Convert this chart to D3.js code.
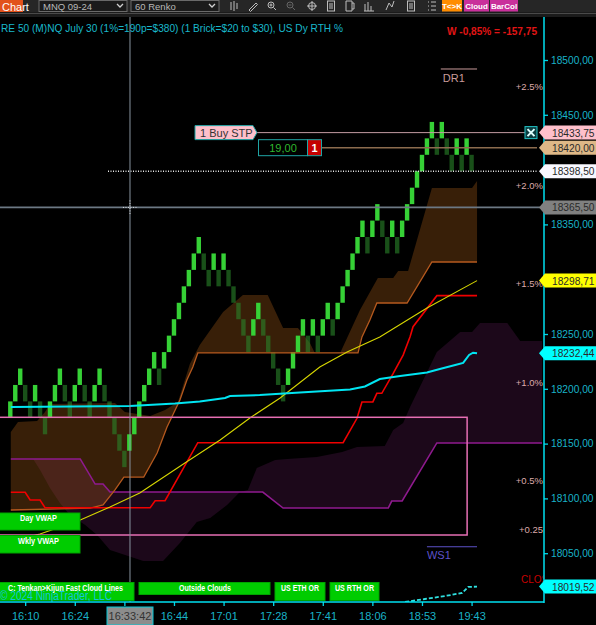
<!DOCTYPE html>
<html>
<head>
<meta charset="utf-8">
<script src="https://d3js.org/d3.v7.min.js"></script>
<style>
  body { margin: 0; background: #000; overflow: hidden; }
  svg { display: block; font-family: "Liberation Sans", Arial, sans-serif; }
</style>
</head>
<body>
<svg id="chart" width="596" height="625"></svg>
<script>
// renko closes (60 tick bricks = 15 pts)
var brickSize = 15;
var brickClose = [18188.5,18203.5,18218.5,18188.5,18173.5,18203.5,18173.5,18158.5,18188.5,18203.5,
  18218.5,18188.5,18173.5,18203.5,18218.5,18188.5,18173.5,18203.5,18218.5,18188.5,
  18173.5,18158.5,18143.5,18128.5,18158.5,18173.5,18188.5,18203.5,18218.5,18233.5,
  18203.5,18233.5,18248.5,18263.5,18278.5,18293.5,18308.5,18323.5,18338.5,18308.5,
  18293.5,18323.5,18293.5,18323.5,18293.5,18278.5,18263.5,18248.5,18233.5,18263.5,
  18278.5,18248.5,18233.5,18218.5,18203.5,18188.5,18218.5,18233.5,18248.5,18263.5,
  18233.5,18263.5,18233.5,18263.5,18278.5,18248.5,18278.5,18293.5,18308.5,18323.5,
  18338.5,18353.5,18323.5,18353.5,18368.5,18338.5,18323.5,18353.5,18323.5,18353.5,
  18368.5,18383.5,18398.5,18413.5,18428.5,18443.5,18413.5,18443.5,18413.5,18398.5,
  18428.5,18398.5,18428.5,18398.5];

var timeTicks = [3, 13, 23, 33, 43, 53, 63, 73, 83, 93];
var timeLabels = ["16:10", "16:24", "", "16:44", "17:01", "17:28", "17:41", "18:06", "18:53", "19:43"];
var priceTicks = [18050, 18100, 18150, 18200, 18250, 18300, 18350, 18400, 18450, 18500];

var pctLabels = ["+2.5%", "+2.0%", "+1.5%", "+1.0%", "+0.5%", "+0.25"];
var pctPrices = [18475.6, 18385.3, 18296.3, 18205.9, 18116.2, 18071.2];

// [bar index, price]
var dayVwap = [[0.1,18183.4],[24.1,18184.3],[33.2,18186.6],[38.2,18188.4],[43.3,18191.6],[44.3,18193.4],
  [50.3,18194.3],[58.4,18196.6],[68.5,18199.4],[71.5,18202.1],[74.5,18208.9],[78.6,18211.7],
  [84.0,18214.9],[86.6,18218.1],[89.7,18221.7],[91.3,18223.6],[92.5,18230.9],[93.3,18232.9],[94.1,18232.4]];
var wklyVwap = [[3.6,18064.8],[6.0,18067.5],[14.1,18080.3],[20.1,18092.2],[26.1,18104.9],[35.2,18132.3],
  [42.3,18153.3],[48.3,18173.4],[54.4,18191.6],[62.4,18219.9],[67.9,18233.6],[74.5,18247.3],
  [84.0,18273.7],[94.1,18298.7]];
var redLine = [[0.1,18105.6],[3.0,18105.6],[4.0,18098.5],[6.0,18098.5],[7.0,18091.5],[28.2,18091.5],
  [29.2,18097.9],[31.2,18097.9],[37.8,18150.8],[67.1,18150.8],[69.9,18173.1],[70.9,18188],
  [73.1,18188],[73.9,18195.9],[74.9,18195.9],[77.2,18214.1],[79.2,18230.8],[80.6,18247.5],
  [81.2,18256.7],[86.0,18285],[94.1,18285]];
var fastSpanA = [[0.1,18160.6],[1.55,18169.7],[5.4,18170.6],[7.0,18178.8],[8.0,18186.1],[21.1,18187],
  [23.1,18178.8],[28.2,18175.2],[31.2,18180.7],[33.8,18188],[36.2,18222.6],[38.2,18240],
  [42.9,18270.1],[46.9,18285.6],[51.9,18285.6],[55.0,18255.5],[58.0,18255.5],[60.4,18241.8],
  [61.4,18232.7],[66.5,18232.7],[70.5,18271.9],[74.1,18301.1],[77.2,18301.1],[78.2,18307.5],
  [80.2,18307.5],[85.0,18383.2],[93.1,18383.2],[94.1,18389.6]];
var fastSpanB = [[0.1,18089.4],[16.1,18091.2],[18.7,18094],[21.1,18107.7],[22.9,18119.5],[26.9,18119.5],
  [29.6,18141.4],[31.6,18165.1],[34.2,18189.8],[35.6,18208],[36.8,18219.9],[37.8,18232.7],
  [70.1,18232.7],[70.9,18247.3],[72.5,18262.8],[73.9,18278.3],[80.0,18278.3],[85.0,18315.7],[94.1,18315.7]];
var slowSpanA = [[0.1,18136],[14.1,18136],[17.1,18113.1],[18.7,18113.1],[20.1,18105.8],[50.9,18105.8],
  [55.0,18091.2],[76.2,18091.2],[76.9,18097.6],[79.0,18097.6],[86.0,18150.6],[107.2,18150.6]];
var slowSpanB = [[0.1,18136],[4.6,18136],[6.0,18125.9],[8.0,18109.5],[10.0,18095.8],[12.0,18084.9],
  [15.1,18075.7],[17.5,18066.6],[20.1,18052.9],[26.8,18042.9],[30.8,18042.9],[34.2,18059.3],
  [37.6,18078.5],[40.3,18082.1],[43.7,18094],[46.3,18105.8],[47.9,18107.7],[49.7,18127.7],
  [53.4,18135],[55.8,18136],[61.8,18137.8],[66.9,18142.3],[69.9,18146.9],[75.5,18147.8],
  [77.2,18162.4],[79.2,18168.8],[80.6,18183.4],[86.0,18233.6],[90.7,18251.8],[93.1,18251.8],
  [94.7,18260],[100.2,18260],[102.8,18243.6],[107.2,18243.6]];
var closePlot = [[79.6,18005.5],[83.6,18008.2],[87.6,18010.9],[91.1,18013.7],[92.3,18019.2],[94.1,18019.5]];

var boxRange = {i0: -5, i1: 92.1, top: 18174.0, bottom: 18066.6};
var markerPrices = [18433.75, 18420.00, 18398.50, 18365.50, 18298.71, 18232.44, 18019.52];
var orderPrice = 18433.75, targetPrice = 18420.00, lastPrice = 18398.50;
var crossIdx = 24.13, crossPrice = 18365.5, crossTime = "16:33:42";
var dr1 = {i0: 86.8, i1: 94.1, price: 18491.8};
var ws1 = {i0: 84.0, i1: 94.1, price: 18055.9};

var W = 596, H = 625, plotL = 0, plotR = 544, plotT = 17, plotB = 602;

var x = d3.scaleLinear().domain([0, 100]).range([10.3, 506.3]);
var y = d3.scaleLinear().domain([18050, 18500]).range([553.2, 60]);
var fmt = function (v) { return d3.format(".2f")(v).replace(".", ","); };
var line = d3.line().x(function (d) { return x(d[0]); }).y(function (d) { return y(d[1]); });

var svg = d3.select("#chart");
svg.append("rect").attr("width", W).attr("height", H).attr("fill", "#000");

//
// TOOLBAR
//
var tb = svg.append("g");
tb.append("rect").attr("width", W).attr("height", 12).attr("fill", "#262626");
tb.append("rect").attr("y", 12).attr("width", W).attr("height", 5).attr("fill", "#1b1b1b");
tb.append("line").attr("x1", 0).attr("x2", W).attr("y1", 13.5).attr("y2", 13.5)
  .attr("stroke", "#4a4a4a").attr("stroke-width", 1);
tb.append("rect").attr("width", 23).attr("height", 12).attr("fill", "#e2521b");
tb.append("text").attr("x", 2).attr("y", 10.5).attr("fill", "#fff").attr("font-size", 11).text("Chart");

[[39, "MNQ 09-24"], [131, "60 Renko"]].forEach(function (d) {
  tb.append("rect").attr("x", d[0]).attr("y", 0.5).attr("width", 88).attr("height", 11)
    .attr("fill", "#1b1b1b").attr("stroke", "#6a6a6a");
  tb.append("text").attr("x", d[0] + 4).attr("y", 9.5).attr("fill", "#b8b8b8").attr("font-size", 9.5).text(d[1]);
  tb.append("path").attr("d", "M" + (d[0] + 78) + ",4 l3,3 l3,-3")
    .attr("fill", "none").attr("stroke", "#d0d0d0").attr("stroke-width", 1.3);
});

var iconX = [234, 253, 272, 291, 312, 331, 350, 369, 390, 411, 432];
iconX.forEach(function (ix, i) {
  var g = tb.append("g").attr("transform", "translate(" + ix + ",6)")
    .attr("stroke", i === 3 ? "#666" : "#bdbdbd").attr("fill", "none").attr("stroke-width", 1);
  if (i === 0) { g.append("path").attr("d", "M-3,-4v8M0,-5v10M3,-3v6"); }
  else if (i === 1) { g.append("path").attr("d", "M-4,4L3,-3l1.5,1.5L-2.5,5.5z"); }
  else if (i === 2 || i === 3) {
    g.append("circle").attr("r", 3).attr("cx", -1).attr("cy", -1);
    g.append("path").attr("d", "M1.5,1.5L4,4" + (i === 2 ? "M-2.5,-1h3M-1,-2.5v3" : "M-2.5,-1h3"));
  }
  else if (i === 4) { g.append("circle").attr("r", 3.5); g.append("path").attr("d", "M-5,0h10M0,-5v10"); }
  else if (i === 5 || i === 9) { g.append("rect").attr("x", -3.5).attr("y", -5).attr("width", 7).attr("height", 10); g.append("path").attr("d", "M-2,-2h4M-2,0h4M-2,2h4"); }
  else if (i === 6) { g.append("path").attr("d", "M-4,-5h6v10h-6zM2,-3h2v6h-2"); }
  else if (i === 7) { g.append("path").attr("d", "M-4,5v-7M-1,5v-9M2,5v-5M-5,5h10"); }
  else if (i === 8) { g.append("path").attr("d", "M-4,4L-1,-3L2,1L4,-5"); }
  else { g.append("path").attr("d", "M-4,-4h1M-1,-4h5M-4,0h1M-1,0h5M-4,4h1M-1,4h5"); }
});
[[442, 20, "#ff8c00", "T<>K"], [464, 25, "#c9309b", "Cloud"], [490, 28, "#c9309b", "BarCol"]].forEach(function (d) {
  tb.append("rect").attr("x", d[0]).attr("y", 0).attr("width", d[1]).attr("height", 11.5).attr("fill", d[2]);
  tb.append("text").attr("x", d[0] + d[1] / 2).attr("y", 9).attr("text-anchor", "middle")
    .attr("fill", "#fff").attr("font-size", 8).attr("font-weight", "bold").text(d[3]);
});

//
// PLOT
//
svg.append("clipPath").attr("id", "plotClip").append("rect")
  .attr("x", plotL).attr("y", plotT).attr("width", plotR - plotL).attr("height", plotB - plotT);
var plot = svg.append("g").attr("clip-path", "url(#plotClip)");

// clouds
plot.append("path")
  .attr("d", line(slowSpanB.concat(slowSpanA.slice().reverse())) + "Z")
  .attr("fill", "#8c2a80").attr("fill-opacity", 0.2).attr("fill-rule", "evenodd");
plot.append("path")
  .attr("d", line(fastSpanA.concat(fastSpanB.slice().reverse())) + "Z")
  .attr("fill", "#b8661a").attr("fill-opacity", 0.3).attr("fill-rule", "evenodd");

// renko bricks
var bricks = brickClose.map(function (c, i) {
  var up = i === 0 || c > brickClose[i - 1];
  return {i: i, up: up, hi: up ? c : c + brickSize, lo: up ? c - brickSize : c};
});
plot.selectAll(".brick").data(bricks).enter().append("rect")
  .attr("class", "brick")
  .attr("x", function (d) { return x(d.i) - 2.2; })
  .attr("y", function (d) { return y(d.hi); })
  .attr("width", 4.4)
  .attr("height", function (d) { return y(d.lo) - y(d.hi); })
  .attr("fill", function (d) { return d.up ? "#36d136" : "#2a862a"; })
  .attr("fill-opacity", function (d) { return d.up ? 1 : 0.6; });

// indicator lines
plot.append("path").attr("d", line(slowSpanA)).attr("fill", "none").attr("stroke", "#8e1a8e").attr("stroke-width", 1.6);
plot.append("path").attr("d", line(fastSpanB)).attr("fill", "none").attr("stroke", "#b5591e").attr("stroke-width", 1.3);
plot.append("path").attr("d", line(redLine)).attr("fill", "none").attr("stroke", "#f00000").attr("stroke-width", 1.6);
plot.append("path").attr("d", line(wklyVwap)).attr("fill", "none").attr("stroke", "#d6d600").attr("stroke-width", 1.1);
plot.append("path").attr("d", line(dayVwap)).attr("fill", "none").attr("stroke", "#00e5f2").attr("stroke-width", 2);
plot.append("path").attr("d", line(closePlot)).attr("fill", "none").attr("stroke", "#2fe0e0")
  .attr("stroke-width", 1.8).attr("stroke-dasharray", "4,2");

// pink range box
plot.append("rect")
  .attr("x", x(boxRange.i0)).attr("y", y(boxRange.top))
  .attr("width", x(boxRange.i1) - x(boxRange.i0)).attr("height", y(boxRange.bottom) - y(boxRange.top))
  .attr("fill", "none").attr("stroke", "#e66fb4").attr("stroke-width", 1.5);

// horizontal price lines
plot.append("line").attr("x1", 257).attr("x2", 525).attr("y1", y(orderPrice)).attr("y2", y(orderPrice))
  .attr("stroke", "#c49ca2").attr("stroke-width", 1);
plot.append("line").attr("x1", 322).attr("x2", 537).attr("y1", y(targetPrice)).attr("y2", y(targetPrice))
  .attr("stroke", "#8c6c4e").attr("stroke-width", 1.5);
plot.append("line").attr("x1", 108).attr("x2", 538).attr("y1", y(lastPrice)).attr("y2", y(lastPrice))
  .attr("stroke", "#e6e6e6").attr("stroke-width", 1.5).attr("stroke-dasharray", "1,1.5");

// crosshair
plot.append("line").attr("x1", 0).attr("x2", 540).attr("y1", y(crossPrice)).attr("y2", y(crossPrice))
  .attr("stroke", "#6c7884").attr("stroke-width", 1.6);
plot.append("line").attr("x1", x(crossIdx)).attr("x2", x(crossIdx)).attr("y1", plotT).attr("y2", plotB)
  .attr("stroke", "#8894a0").attr("stroke-width", 1);
plot.append("path")
  .attr("d", "M" + (x(crossIdx) - 7) + "," + y(crossPrice) + "h14M" + x(crossIdx) + "," + (y(crossPrice) - 7) + "v14")
  .attr("stroke", "#ddd").attr("stroke-width", 1).attr("stroke-dasharray", "1,1.5");

// pivots
plot.append("line").attr("x1", x(dr1.i0)).attr("x2", x(dr1.i1)).attr("y1", y(dr1.price)).attr("y2", y(dr1.price))
  .attr("stroke", "#c99b9b").attr("stroke-width", 1);
plot.append("text").attr("x", x(dr1.i0) + 2).attr("y", y(dr1.price) + 13).attr("fill", "#c99b9b")
  .attr("font-size", 11).text("DR1");
plot.append("line").attr("x1", x(ws1.i0)).attr("x2", x(ws1.i1)).attr("y1", y(ws1.price)).attr("y2", y(ws1.price))
  .attr("stroke", "#5d52c8").attr("stroke-width", 1.2);
plot.append("text").attr("x", x(ws1.i0)).attr("y", y(ws1.price) + 12).attr("fill", "#5d52c8")
  .attr("font-size", 11).text("WS1");

// percent levels
plot.selectAll(".pct").data(pctLabels).enter().append("text")
  .attr("class", "pct")
  .attr("x", 543).attr("y", function (d, i) { return y(pctPrices[i]) + 3.5; })
  .attr("text-anchor", "end").attr("fill", "#dcaaaa").attr("font-size", 9.5)
  .text(function (d) { return d; });
plot.append("text").attr("x", 521).attr("y", 583).attr("fill", "#c80000").attr("font-size", 10).text("CLOS");

// order labels
var oy = y(orderPrice), ty = y(targetPrice);
plot.append("path")
  .attr("d", "M195," + (oy - 7) + "H253L257," + oy + "L253," + (oy + 7) + "H195Z")
  .attr("fill", "#ffc0cb").attr("stroke", "#1fa5a5").attr("stroke-width", 1);
plot.append("text").attr("x", 200).attr("y", oy + 4).attr("fill", "#333").attr("font-size", 11).text("1 Buy STP");
plot.append("rect").attr("x", 258.5).attr("y", ty - 8).attr("width", 49).attr("height", 16)
  .attr("fill", "#000").attr("stroke", "#1fa5a5");
plot.append("text").attr("x", 283).attr("y", ty + 4).attr("text-anchor", "middle")
  .attr("fill", "#2fb82f").attr("font-size", 11).text("19,00");
plot.append("rect").attr("x", 307.5).attr("y", ty - 8).attr("width", 14).attr("height", 16)
  .attr("fill", "#c40000").attr("stroke", "#1fa5a5");
plot.append("text").attr("x", 314.5).attr("y", ty + 4).attr("text-anchor", "middle")
  .attr("fill", "#fff").attr("font-size", 11).attr("font-weight", "bold").text("1");
plot.append("rect").attr("x", 525).attr("y", oy - 6).attr("width", 12).attr("height", 12)
  .attr("fill", "#0b3d40").attr("stroke", "#22c4c8").attr("stroke-width", 1);
plot.append("path").attr("d", "M527.5," + (oy - 3.5) + "l7,7M534.5," + (oy - 3.5) + "l-7,7")
  .attr("stroke", "#dfffff").attr("stroke-width", 2);

// legend tags
var tag = function (x0, y0, w, h, label, tx, tw) {
  plot.append("rect").attr("x", x0).attr("y", y0).attr("width", w).attr("height", h)
    .attr("fill", "#00cc00").attr("stroke", "#00a300").attr("stroke-width", 1);
  plot.append("text").attr("x", tx).attr("y", y0 + 8).attr("textLength", tw)
    .attr("lengthAdjust", "spacingAndGlyphs")
    .attr("fill", "#fff").attr("font-size", 8.5).attr("font-weight", "bold").text(label);
};
tag(-1, 513, 81, 17, "Day VWAP", 20, 37);
tag(-1, 535.5, 81, 17.5, "Wkly VWAP", 18, 41);
tag(-1, 582.5, 135, 18, "C: Tenkan>Kijun Fast Cloud Lines", 8, 115);
tag(139, 582.5, 131, 12, "Outside Clouds", 179, 52);
tag(275, 582.5, 50, 18, "US ETH OR", 281, 38);
tag(330, 582.5, 49, 18, "US RTH OR", 335, 39);
// watermark sits over the tags, as in the platform
plot.append("text").attr("x", 0).attr("y", 600).attr("fill", "#14c4dc")
  .attr("font-size", 12).attr("textLength", 112).attr("lengthAdjust", "spacingAndGlyphs")
  .text("\u00a9 2024 NinjaTrader, LLC");

//
// AXES
//
var yAxis = d3.axisRight(y).tickValues(priceTicks).tickFormat(fmt).tickSize(4).tickPadding(3);
var ga = svg.append("g").attr("transform", "translate(" + plotR + ",0)").call(yAxis);
ga.select(".domain").remove();
ga.selectAll("line").attr("stroke", "#00d8e8").attr("stroke-width", 1.3);
ga.selectAll("text").attr("fill", "#19b3c8").attr("font-size", 10.2)
  .attr("font-family", "'Liberation Sans', Arial, sans-serif");
// labels hidden behind price markers
ga.selectAll(".tick").filter(function (d) {
  return markerPrices.some(function (m) { return Math.abs(y(m) - y(d)) < 12; });
}).select("text").remove();

var xAxis = d3.axisBottom(x).tickValues(timeTicks)
  .tickFormat(function (d, i) { return timeLabels[i]; }).tickSize(4).tickPadding(6);
var gx = svg.append("g").attr("transform", "translate(0," + plotB + ")").call(xAxis);
gx.select(".domain").remove();
gx.selectAll("line").attr("stroke", "#00d8e8").attr("stroke-width", 1.3);
gx.selectAll("text").attr("fill", "#19b3c8").attr("font-size", 11)
  .attr("font-family", "'Liberation Sans', Arial, sans-serif");

svg.append("line").attr("x1", plotR).attr("x2", plotR).attr("y1", plotT).attr("y2", plotB + 1)
  .attr("stroke", "#00e0f0").attr("stroke-width", 1.5);
svg.append("line").attr("x1", 0).attr("x2", plotR).attr("y1", plotB).attr("y2", plotB)
  .attr("stroke", "#00e0f0").attr("stroke-width", 1.5);

// price markers on the axis
var markerFill = ["#ffc0cb", "#deb887", "#f8f8ff", "#808080", "#ffff00", "#00ffff", "#00ffff"];
var mk = svg.selectAll(".marker").data(markerPrices).enter().append("g")
  .attr("class", "marker")
  .attr("transform", function (d) { return "translate(0," + y(d) + ")"; });
mk.append("path").attr("d", "M539,0L545,-7H596V7H545Z")
  .attr("fill", function (d, i) { return markerFill[i]; });
mk.append("text").attr("x", 552).attr("y", 4).attr("fill", "#2a2a2a").attr("font-size", 10.2)
  .text(fmt);

// crosshair time label
svg.append("rect").attr("x", 107).attr("y", 607).attr("width", 46).attr("height", 18)
  .attr("fill", "#8c8c8c").attr("stroke", "#00c8d8").attr("stroke-width", 1);
svg.append("text").attr("x", x(crossIdx)).attr("y", 620).attr("text-anchor", "middle")
  .attr("fill", "#333").attr("font-size", 11).text(crossTime);

//
// TITLE
//
svg.append("text").attr("x", 1).attr("y", 32).attr("fill", "#19b8cc").attr("font-size", 11)
  .attr("textLength", 342).attr("lengthAdjust", "spacingAndGlyphs")
  .text("RE 50 (M)NQ July 30 (1%=190p=$380) (1 Brick=$20 to $30), US Dy RTH %");
svg.append("text").attr("x", 447).attr("y", 35).attr("fill", "#e01515").attr("font-size", 10.5)
  .attr("font-weight", "bold").attr("textLength", 90).attr("lengthAdjust", "spacingAndGlyphs")
  .text("W -0,85% = -157,75");
</script>
</body>
</html>
